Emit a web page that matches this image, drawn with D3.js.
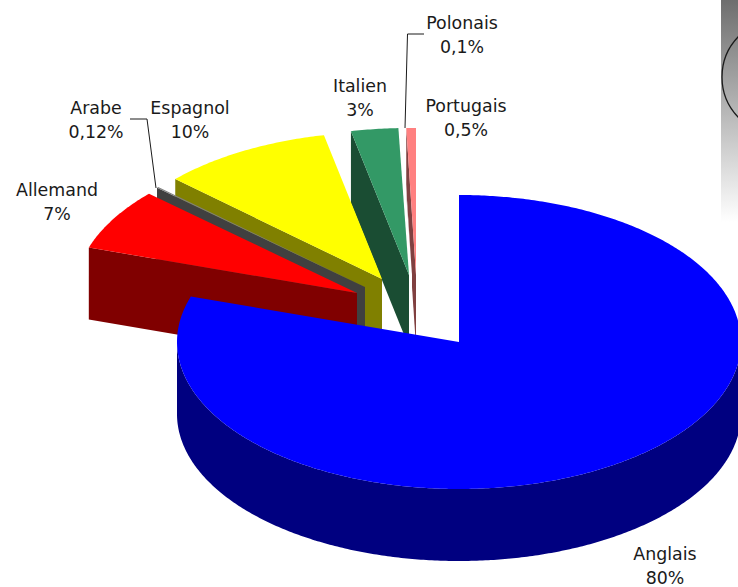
<!DOCTYPE html>
<html>
<head>
<meta charset="utf-8">
<script src="https://d3js.org/d3.v7.min.js"></script>
<style>
  html, body { margin: 0; padding: 0; background: #fff; overflow: hidden; }
  text { font-family: "DejaVu Sans", sans-serif; font-size: 17.4px; fill: #1a1a1a; }
</style>
</head>
<body>
<svg id="chart" width="738" height="587"></svg>
<script>
// values
var languages = ["Anglais", "Allemand", "Arabe", "Espagnol", "Italien", "Polonais", "Portugais"];
var shownValues = ["80%", "7%", "0,12%", "10%", "3%", "0,1%", "0,5%"];
// slice sizes (printed labels add up to more than 100)
var shares = [80, 6.8, 0.1, 9.8, 2.7, 0.05, 0.55];

// look of each slice
var topColors = ["#0000ff", "#ff0000", "#808080", "#ffff00", "#339966", "#ffffff", "#ff8080"];
var wallColors = ["#000080", "#800000", "#404040", "#808000", "#1a4d33", "#ffffff", "#804040"];
// how far each slice is pulled out from the centre, px
var explodeX = [0, -102, -94, -77, -50, -47, -43];
var explodeY = [0, -49, -55, -63, -67, -67, -67];
// label centres
var labelX = [665, 57, 96, 190, 360, 462, 466];
var labelY = [554, 190, 108, 108, 86, 23, 106];

var cx = 459, cy = 342, rx = 282, ry = 147, depth = 72;

var svg = d3.select("#chart");

// scrap of the next picture at the top right
var defs = svg.append("defs");
var grad = defs.append("linearGradient").attr("id", "fade")
    .attr("x1", 0).attr("y1", 0).attr("x2", 0).attr("y2", 1);
grad.append("stop").attr("offset", 0).attr("stop-color", "#6e6e6e");
grad.append("stop").attr("offset", 1).attr("stop-color", "#ffffff");
svg.append("rect").attr("x", 721).attr("y", 0).attr("width", 17).attr("height", 222)
    .attr("fill", "url(#fade)");
svg.append("circle").attr("cx", 780).attr("cy", 77).attr("r", 58)
    .attr("fill", "none").attr("stroke", "#1a1a1a").attr("stroke-width", 1.3);

var pie = d3.pie().sort(null).startAngle(0).endAngle(2 * Math.PI);
var arcs = pie(shares);

// flatten the circle to the tilted ellipse
var px = d3.scaleLinear().domain([-1, 1]).range([-rx, rx]);
var py = d3.scaleLinear().domain([-1, 1]).range([-ry, ry]);

function pt(a, lift) {
  return [px(Math.sin(a)), py(-Math.cos(a)) + (lift || 0)];
}
function arcPts(a0, a1, lift) {
  var n = Math.max(2, Math.ceil((a1 - a0) / 0.01)), out = [];
  for (var i = 0; i <= n; i++) out.push(pt(a0 + (a1 - a0) * i / n, lift));
  return out;
}
var line = d3.line();

// back to front: small slices first, Anglais on top
d3.range(arcs.length - 1, -1, -1).forEach(function (i) {
  var d = arcs[i];
  var g = svg.append("g").attr("transform",
    "translate(" + (cx + explodeX[i]) + "," + (cy + explodeY[i]) + ")");

  // wall along the cut at the start of the slice; only the far slices show it
  if (i > 0) {
    var e = pt(d.startAngle);
    g.append("path").attr("fill", wallColors[i])
      .attr("d", line([[0, 0], e, [e[0], e[1] + depth], [0, depth]]) + "Z");
  }
  // rim, front part of the big slice
  if (i === 0) {
    var rim = arcPts(d.startAngle, d.endAngle, 0).filter(function (p) { return p[1] >= 0; });
    var rimLow = rim.map(function (p) { return [p[0], p[1] + depth]; }).reverse();
    g.append("path").attr("fill", wallColors[i]).attr("d", line(rim.concat(rimLow)) + "Z");
  }
  g.append("path").attr("fill", topColors[i])
    .attr("d", line([[0, 0]].concat(arcPts(d.startAngle, d.endAngle, 0))) + "Z");
});

// leader lines
svg.append("path").attr("fill", "none").attr("stroke", "#1a1a1a").attr("stroke-width", 1)
  .attr("d", line([[130, 119], [147, 119], [156, 188]]));
svg.append("path").attr("fill", "none").attr("stroke", "#1a1a1a").attr("stroke-width", 1)
  .attr("d", line([[424, 34], [407.5, 34], [405, 128]]));

// labels
languages.forEach(function (name, i) {
  var t = svg.append("text").attr("text-anchor", "middle")
    .attr("x", labelX[i]).attr("y", labelY[i] + 6);
  t.append("tspan").attr("x", labelX[i]).text(name);
  t.append("tspan").attr("x", labelX[i]).attr("dy", 24).text(shownValues[i]);
});
</script>
</body>
</html>
